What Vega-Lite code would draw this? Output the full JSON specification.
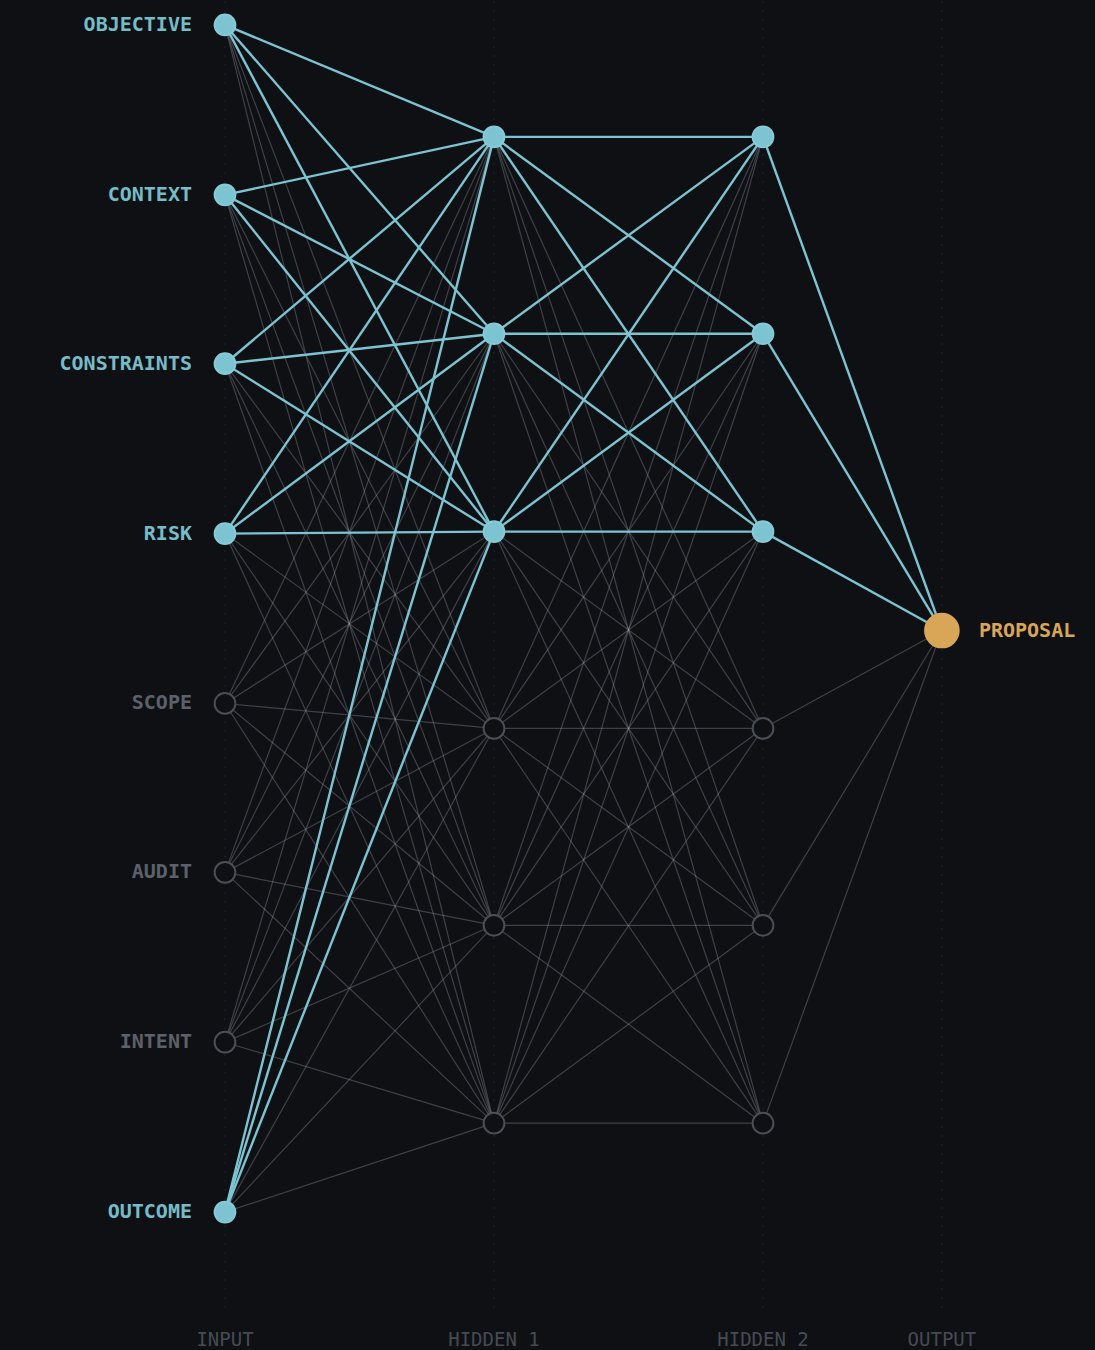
{
  "$schema": "https://vega.github.io/schema/vega-lite/v6.json",
  "width": 1095,
  "height": 1350,
  "padding": 0,
  "autosize": {"type": "fit", "contains": "padding"},
  "background": "#0e1014",
  "config": {"view": {"stroke": null}},
  "datasets": {
    "nodes": [
      {"id": "i0", "layer": "input", "x": 0, "y": 24, "label": "OBJECTIVE", "state": "on"},
      {"id": "i1", "layer": "input", "x": 0, "y": 194, "label": "CONTEXT", "state": "on"},
      {"id": "i2", "layer": "input", "x": 0, "y": 363, "label": "CONSTRAINTS", "state": "on"},
      {"id": "i3", "layer": "input", "x": 0, "y": 533, "label": "RISK", "state": "on"},
      {"id": "i4", "layer": "input", "x": 0, "y": 703, "label": "SCOPE", "state": "off"},
      {"id": "i5", "layer": "input", "x": 0, "y": 872, "label": "AUDIT", "state": "off"},
      {"id": "i6", "layer": "input", "x": 0, "y": 1042, "label": "INTENT", "state": "off"},
      {"id": "i7", "layer": "input", "x": 0, "y": 1212, "label": "OUTCOME", "state": "on"},
      {"id": "a0", "layer": "hidden1", "x": 1, "y": 136, "label": "", "state": "on"},
      {"id": "a1", "layer": "hidden1", "x": 1, "y": 333, "label": "", "state": "on"},
      {"id": "a2", "layer": "hidden1", "x": 1, "y": 531, "label": "", "state": "on"},
      {"id": "a3", "layer": "hidden1", "x": 1, "y": 728, "label": "", "state": "off"},
      {"id": "a4", "layer": "hidden1", "x": 1, "y": 925, "label": "", "state": "off"},
      {"id": "a5", "layer": "hidden1", "x": 1, "y": 1123, "label": "", "state": "off"},
      {"id": "b0", "layer": "hidden2", "x": 2, "y": 136, "label": "", "state": "on"},
      {"id": "b1", "layer": "hidden2", "x": 2, "y": 333, "label": "", "state": "on"},
      {"id": "b2", "layer": "hidden2", "x": 2, "y": 531, "label": "", "state": "on"},
      {"id": "b3", "layer": "hidden2", "x": 2, "y": 728, "label": "", "state": "off"},
      {"id": "b4", "layer": "hidden2", "x": 2, "y": 925, "label": "", "state": "off"},
      {"id": "b5", "layer": "hidden2", "x": 2, "y": 1123, "label": "", "state": "off"},
      {"id": "o", "layer": "output", "x": 2.665, "y": 630, "label": "PROPOSAL", "state": "out"}
    ],
    "edges": [
      {"s": "i0", "t": "a0", "on": 1}, {"s": "i0", "t": "a1", "on": 1}, {"s": "i0", "t": "a2", "on": 1}, {"s": "i0", "t": "a3", "on": 0}, {"s": "i0", "t": "a4", "on": 0}, {"s": "i0", "t": "a5", "on": 0},
      {"s": "i1", "t": "a0", "on": 1}, {"s": "i1", "t": "a1", "on": 1}, {"s": "i1", "t": "a2", "on": 1}, {"s": "i1", "t": "a3", "on": 0}, {"s": "i1", "t": "a4", "on": 0}, {"s": "i1", "t": "a5", "on": 0},
      {"s": "i2", "t": "a0", "on": 1}, {"s": "i2", "t": "a1", "on": 1}, {"s": "i2", "t": "a2", "on": 1}, {"s": "i2", "t": "a3", "on": 0}, {"s": "i2", "t": "a4", "on": 0}, {"s": "i2", "t": "a5", "on": 0},
      {"s": "i3", "t": "a0", "on": 1}, {"s": "i3", "t": "a1", "on": 1}, {"s": "i3", "t": "a2", "on": 1}, {"s": "i3", "t": "a3", "on": 0}, {"s": "i3", "t": "a4", "on": 0}, {"s": "i3", "t": "a5", "on": 0},
      {"s": "i4", "t": "a0", "on": 0}, {"s": "i4", "t": "a1", "on": 0}, {"s": "i4", "t": "a2", "on": 0}, {"s": "i4", "t": "a3", "on": 0}, {"s": "i4", "t": "a4", "on": 0}, {"s": "i4", "t": "a5", "on": 0},
      {"s": "i5", "t": "a0", "on": 0}, {"s": "i5", "t": "a1", "on": 0}, {"s": "i5", "t": "a2", "on": 0}, {"s": "i5", "t": "a3", "on": 0}, {"s": "i5", "t": "a4", "on": 0}, {"s": "i5", "t": "a5", "on": 0},
      {"s": "i6", "t": "a0", "on": 0}, {"s": "i6", "t": "a1", "on": 0}, {"s": "i6", "t": "a2", "on": 0}, {"s": "i6", "t": "a3", "on": 0}, {"s": "i6", "t": "a4", "on": 0}, {"s": "i6", "t": "a5", "on": 0},
      {"s": "i7", "t": "a0", "on": 1}, {"s": "i7", "t": "a1", "on": 1}, {"s": "i7", "t": "a2", "on": 1}, {"s": "i7", "t": "a3", "on": 0}, {"s": "i7", "t": "a4", "on": 0}, {"s": "i7", "t": "a5", "on": 0},
      {"s": "a0", "t": "b0", "on": 1}, {"s": "a0", "t": "b1", "on": 1}, {"s": "a0", "t": "b2", "on": 1}, {"s": "a0", "t": "b3", "on": 0}, {"s": "a0", "t": "b4", "on": 0}, {"s": "a0", "t": "b5", "on": 0},
      {"s": "a1", "t": "b0", "on": 1}, {"s": "a1", "t": "b1", "on": 1}, {"s": "a1", "t": "b2", "on": 1}, {"s": "a1", "t": "b3", "on": 0}, {"s": "a1", "t": "b4", "on": 0}, {"s": "a1", "t": "b5", "on": 0},
      {"s": "a2", "t": "b0", "on": 1}, {"s": "a2", "t": "b1", "on": 1}, {"s": "a2", "t": "b2", "on": 1}, {"s": "a2", "t": "b3", "on": 0}, {"s": "a2", "t": "b4", "on": 0}, {"s": "a2", "t": "b5", "on": 0},
      {"s": "a3", "t": "b0", "on": 0}, {"s": "a3", "t": "b1", "on": 0}, {"s": "a3", "t": "b2", "on": 0}, {"s": "a3", "t": "b3", "on": 0}, {"s": "a3", "t": "b4", "on": 0}, {"s": "a3", "t": "b5", "on": 0},
      {"s": "a4", "t": "b0", "on": 0}, {"s": "a4", "t": "b1", "on": 0}, {"s": "a4", "t": "b2", "on": 0}, {"s": "a4", "t": "b3", "on": 0}, {"s": "a4", "t": "b4", "on": 0}, {"s": "a4", "t": "b5", "on": 0},
      {"s": "a5", "t": "b0", "on": 0}, {"s": "a5", "t": "b1", "on": 0}, {"s": "a5", "t": "b2", "on": 0}, {"s": "a5", "t": "b3", "on": 0}, {"s": "a5", "t": "b4", "on": 0}, {"s": "a5", "t": "b5", "on": 0},
      {"s": "b0", "t": "o", "on": 1}, {"s": "b1", "t": "o", "on": 1}, {"s": "b2", "t": "o", "on": 1}, {"s": "b3", "t": "o", "on": 0}, {"s": "b4", "t": "o", "on": 0}, {"s": "b5", "t": "o", "on": 0}
    ],
    "layers": [
      {"name": "INPUT", "x": 0},
      {"name": "HIDDEN 1", "x": 1},
      {"name": "HIDDEN 2", "x": 2},
      {"name": "OUTPUT", "x": 2.665}
    ]
  },
  "layer": [
    {
      "data": {"name": "layers"},
      "mark": {"type": "rule", "stroke": "#20242b", "strokeWidth": 1, "strokeDash": [2, 7]},
      "encoding": {
        "x": {"field": "x", "type": "quantitative", "scale": {"domain": [-0.8364, 3.2342], "nice": false, "zero": false}, "axis": null},
        "y": {"datum": 0, "type": "quantitative", "scale": {"domain": [0, 1350], "reverse": true, "nice": false, "zero": false}, "axis": null},
        "y2": {"datum": 1315}
      }
    },
    {
      "data": {"name": "edges"},
      "transform": [
        {"filter": "datum.on == 0"},
        {"lookup": "s", "from": {"data": {"name": "nodes"}, "key": "id", "fields": ["x", "y"]}, "as": ["sx", "sy"]},
        {"lookup": "t", "from": {"data": {"name": "nodes"}, "key": "id", "fields": ["x", "y"]}, "as": ["tx", "ty"]}
      ],
      "mark": {"type": "rule", "stroke": "#a4a9b0", "strokeOpacity": 0.32, "strokeWidth": 1.2},
      "encoding": {
        "x": {"field": "sx", "type": "quantitative", "scale": {"domain": [-0.8364, 3.2342], "nice": false, "zero": false}, "axis": null},
        "y": {"field": "sy", "type": "quantitative", "scale": {"domain": [0, 1350], "reverse": true, "nice": false, "zero": false}, "axis": null},
        "x2": {"field": "tx"},
        "y2": {"field": "ty"}
      }
    },
    {
      "data": {"name": "edges"},
      "transform": [
        {"filter": "datum.on == 1"},
        {"lookup": "s", "from": {"data": {"name": "nodes"}, "key": "id", "fields": ["x", "y"]}, "as": ["sx", "sy"]},
        {"lookup": "t", "from": {"data": {"name": "nodes"}, "key": "id", "fields": ["x", "y"]}, "as": ["tx", "ty"]}
      ],
      "mark": {"type": "rule", "stroke": "#7cc4d1", "strokeWidth": 2.4},
      "encoding": {
        "x": {"field": "sx", "type": "quantitative", "scale": {"domain": [-0.8364, 3.2342], "nice": false, "zero": false}, "axis": null},
        "y": {"field": "sy", "type": "quantitative", "scale": {"domain": [0, 1350], "reverse": true, "nice": false, "zero": false}, "axis": null},
        "x2": {"field": "tx"},
        "y2": {"field": "ty"}
      }
    },
    {
      "data": {"name": "nodes"},
      "mark": {"type": "point", "filled": true, "opacity": 1, "strokeWidth": 2, "shape": "circle"},
      "encoding": {
        "x": {"field": "x", "type": "quantitative", "scale": {"domain": [-0.8364, 3.2342], "nice": false, "zero": false}, "axis": null},
        "y": {"field": "y", "type": "quantitative", "scale": {"domain": [0, 1350], "reverse": true, "nice": false, "zero": false}, "axis": null},
        "fill": {"field": "state", "type": "nominal", "scale": {"domain": ["on", "off", "out"], "range": ["#7cc4d1", "#0e1014", "#d9a557"]}, "legend": null},
        "stroke": {"field": "state", "type": "nominal", "scale": {"domain": ["on", "off", "out"], "range": ["#86cad6", "#4a4e55", "#d9a557"]}, "legend": null},
        "size": {"condition": {"test": "datum.state == 'out'", "value": 1130}, "value": 430}
      }
    },
    {
      "data": {"name": "nodes"},
      "transform": [{"filter": "datum.layer == 'input'"}],
      "mark": {"type": "text", "align": "right", "baseline": "middle", "dx": -33, "font": "DejaVu Sans Mono", "fontSize": 20, "fontWeight": "bold"},
      "encoding": {
        "x": {"field": "x", "type": "quantitative", "scale": {"domain": [-0.8364, 3.2342], "nice": false, "zero": false}, "axis": null},
        "y": {"field": "y", "type": "quantitative", "scale": {"domain": [0, 1350], "reverse": true, "nice": false, "zero": false}, "axis": null},
        "text": {"field": "label"},
        "color": {"field": "state", "type": "nominal", "scale": {"domain": ["on", "off"], "range": ["#76bcc8", "#5c6169"]}, "legend": null}
      }
    },
    {
      "data": {"name": "nodes"},
      "transform": [{"filter": "datum.layer == 'output'"}],
      "mark": {"type": "text", "align": "left", "baseline": "middle", "dx": 37, "font": "DejaVu Sans Mono", "fontSize": 20, "fontWeight": "bold", "fill": "#d9a557"},
      "encoding": {
        "x": {"field": "x", "type": "quantitative", "scale": {"domain": [-0.8364, 3.2342], "nice": false, "zero": false}, "axis": null},
        "y": {"field": "y", "type": "quantitative", "scale": {"domain": [0, 1350], "reverse": true, "nice": false, "zero": false}, "axis": null},
        "text": {"field": "label"}
      }
    },
    {
      "data": {"name": "layers"},
      "mark": {"type": "text", "align": "center", "baseline": "middle", "font": "DejaVu Sans Mono", "fontSize": 19, "fill": "#464b53"},
      "encoding": {
        "x": {"field": "x", "type": "quantitative", "scale": {"domain": [-0.8364, 3.2342], "nice": false, "zero": false}, "axis": null},
        "y": {"datum": 1340, "type": "quantitative", "scale": {"domain": [0, 1350], "reverse": true, "nice": false, "zero": false}, "axis": null},
        "text": {"field": "name"}
      }
    }
  ]
}
